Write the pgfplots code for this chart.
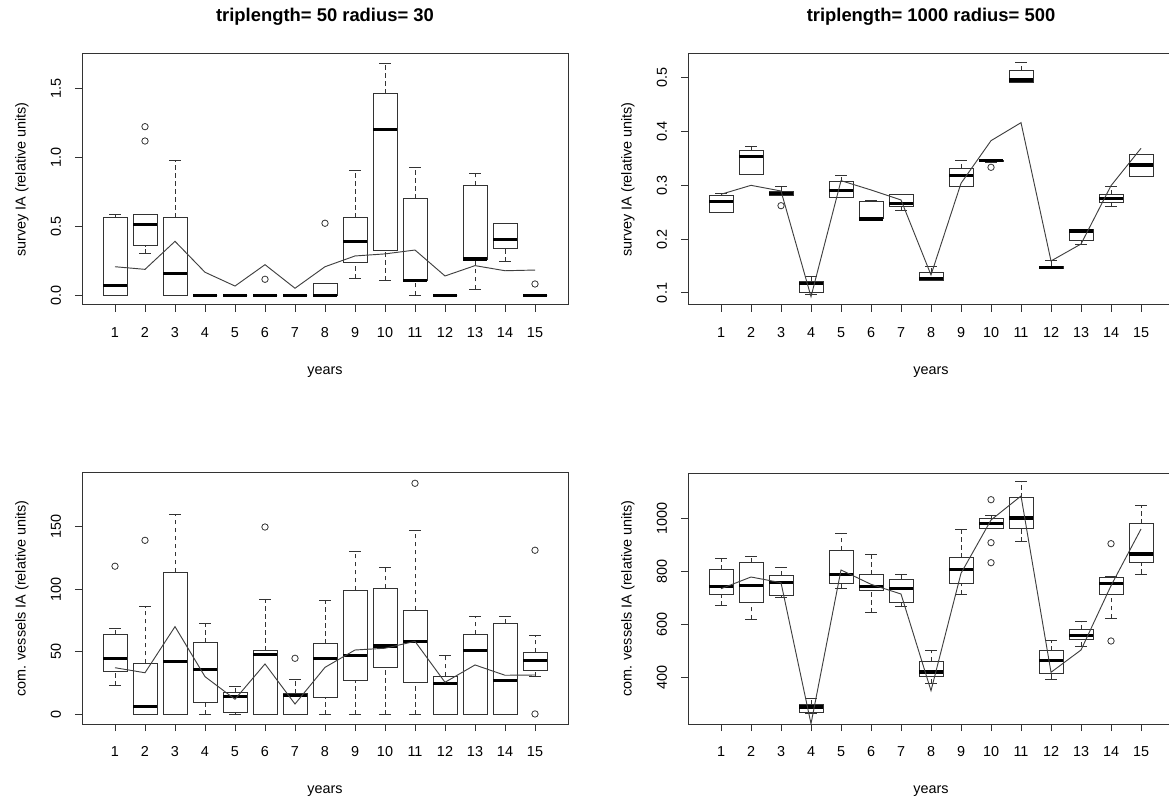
\documentclass[border=0pt]{standalone}
\usepackage{fontspec}
\setmainfont{Liberation Sans}
\usepackage{pgfplots}
\pgfplotsset{compat=1.18}

\pgfplotsset{
  boxl/.style={black!80, line width=0.75pt, mark=none, solid},
  whl/.style={black!80, line width=0.75pt, mark=none, dash pattern=on 3.5pt off 2.5pt},
  medl/.style={black, line width=2.3pt, mark=none, solid},
  outl/.style={only marks, mark=o, mark size=2.4pt, black!80, mark options={solid, line width=0.6pt}},
  rline/.style={black!75, line width=0.7pt, mark=none, solid},
  rpanel/.style={
    scale only axis, width=364.5pt, height=188.25pt, anchor=south west,
    xmin=-0.1, xmax=16.1, xtick={1,...,15},
    tick align=outside, major tick length=5.25pt,
    xtick pos=lower, ytick pos=left,
    axis line style={black!80, line width=0.75pt},
    major tick style={black!80, line width=0.75pt},
    tick label style={font=\fontsize{10.8}{12}\selectfont, text=black},
    /pgf/number format/assume math mode=true,
    xticklabel style={anchor=base, yshift=-19.4pt},
    yticklabel style={xshift=-14.25pt, rotate=90, anchor=center},
    xlabel={years},
    every axis x label/.style={at={(axis description cs:0.5,0)}, anchor=center, yshift=-50.25pt, font=\fontsize{10.8}{12}\selectfont},
    every axis y label/.style={at={(axis description cs:-0.1235,0.5)}, rotate=90, anchor=center, font=\fontsize{10.8}{12}\selectfont},
    title style={at={(axis description cs:0.5,1)}, anchor=center, yshift=22pt, font=\fontsize{13.8}{16}\selectfont\bfseries},
  },
}
% \bx{position}{lower whisker}{lower quartile}{median}{upper quartile}{upper whisker}
\newcommand{\bx}[6]{%
  \pgfmathsetmacro\xl{#1-0.4}\pgfmathsetmacro\xr{#1+0.4}%
  \pgfmathsetmacro\cl{#1-0.2}\pgfmathsetmacro\cr{#1+0.2}%
  \addplot[whl] coordinates {(#1,#2) (#1,#3)};
  \addplot[whl] coordinates {(#1,#5) (#1,#6)};
  \addplot[boxl] coordinates {(\cl,#2) (\cr,#2)};
  \addplot[boxl] coordinates {(\cl,#6) (\cr,#6)};
  \addplot[boxl] coordinates {(\xl,#3) (\xr,#3) (\xr,#5) (\xl,#5) (\xl,#3)};
  \addplot[medl] coordinates {(\xl,#4) (\xr,#4)};
}

\begin{document}
\begin{tikzpicture}
\begin{scope}
\clip (0,0) rectangle (876.75pt,599.25pt);

% ---------- top left ----------
\begin{axis}[rpanel, at={(61.5pt,370.5pt)},
  ymin=-0.0703, ymax=1.7486,
  ytick={0,0.5,1,1.5}, yticklabels={0.0,0.5,1.0,1.5},
  ylabel={survey IA (relative units)},
  title={triplength= 50 radius= 30}]
\bx{1}{0}{0}{0.070}{0.562}{0.587}
\bx{2}{0.30}{0.36}{0.514}{0.587}{0.587}
\bx{3}{0}{0}{0.159}{0.562}{0.978}
\bx{4}{0}{0}{0}{0}{0}
\bx{5}{0}{0}{0}{0}{0}
\bx{6}{0}{0}{0}{0}{0}
\bx{7}{0}{0}{0}{0}{0}
\bx{8}{0}{0}{0}{0.082}{0.082}
\bx{9}{0.120}{0.241}{0.389}{0.562}{0.901}
\bx{10}{0.104}{0.321}{1.203}{1.459}{1.678}
\bx{11}{0}{0.104}{0.104}{0.700}{0.925}
\bx{12}{0}{0}{0}{0}{0}
\bx{13}{0.043}{0.263}{0.263}{0.797}{0.881}
\bx{14}{0.244}{0.338}{0.403}{0.522}{0.522}
\bx{15}{0}{0}{0}{0}{0}
\addplot[outl] coordinates {(2,1.222) (2,1.118) (6,0.116) (8,0.522) (15,0.082)};
\addplot[rline] coordinates {(1,0.207) (2,0.188) (3,0.391) (4,0.167) (5,0.067) (6,0.222) (7,0.051) (8,0.207) (9,0.285) (10,0.300) (11,0.328) (12,0.140) (13,0.215) (14,0.178) (15,0.183)};
\end{axis}

% ---------- top right ----------
\begin{axis}[rpanel, at={(516pt,370.5pt)},
  ymin=0.0777, ymax=0.544,
  ytick={0.1,0.2,0.3,0.4,0.5}, yticklabels={0.1,0.2,0.3,0.4,0.5},
  ylabel={survey IA (relative units)},
  title={triplength= 1000 radius= 500}]
\bx{1}{0.2492}{0.2492}{0.2704}{0.2808}{0.284}
\bx{2}{0.3205}{0.3205}{0.354}{0.3644}{0.3718}
\bx{3}{0.281}{0.2815}{0.2845}{0.2877}{0.297}
\bx{4}{0.098}{0.100}{0.1168}{0.121}{0.130}
\bx{5}{0.2778}{0.2778}{0.290}{0.3063}{0.318}
\bx{6}{0.2375}{0.2375}{0.2375}{0.2704}{0.271}
\bx{7}{0.2537}{0.2598}{0.2654}{0.2827}{0.2827}
\bx{8}{0.1223}{0.1223}{0.1273}{0.1385}{0.1496}
\bx{9}{0.2975}{0.2975}{0.3187}{0.331}{0.3453}
\bx{10}{0.3425}{0.3435}{0.3453}{0.3468}{0.3475}
\bx{11}{0.4902}{0.4902}{0.4957}{0.5137}{0.5279}
\bx{12}{0.1455}{0.146}{0.148}{0.150}{0.161}
\bx{13}{0.191}{0.1966}{0.2152}{0.2177}{0.2177}
\bx{14}{0.2604}{0.2673}{0.276}{0.2827}{0.2975}
\bx{15}{0.3155}{0.3155}{0.3378}{0.3577}{0.3577}
\addplot[outl] coordinates {(3,0.2622) (10,0.3335)};
\addplot[rline] coordinates {(1,0.2834) (2,0.300) (3,0.2895) (4,0.0932) (5,0.3087) (6,0.2914) (7,0.2728) (8,0.1335) (9,0.3038) (10,0.383) (11,0.4164) (12,0.1595) (13,0.191) (14,0.2994) (15,0.3688)};
\end{axis}

% ---------- bottom left ----------
\begin{axis}[rpanel, at={(61.5pt,56.25pt)},
  ymin=-7.4, ymax=192.4,
  ytick={0,50,100,150}, yticklabels={0,50,100,150},
  ylabel={com. vessels IA (relative units)}]
\bx{1}{22.9}{34.0}{44.9}{64.0}{68.5}
\bx{2}{0}{0}{6.9}{40.9}{86.0}
\bx{3}{0}{0}{42.0}{113.4}{159.2}
\bx{4}{0}{9.9}{36.1}{57.1}{72.5}
\bx{5}{0.3}{2.1}{14.3}{17.8}{22.6}
\bx{6}{0}{0}{48.1}{51.0}{92.1}
\bx{7}{0}{0}{15.4}{16.5}{28.2}
\bx{8}{0}{13.3}{44.6}{56.3}{91.3}
\bx{9}{0}{27.4}{47.0}{99.0}{130.3}
\bx{10}{0}{37.7}{54.7}{100.6}{117.4}
\bx{11}{0}{25.8}{58.4}{83.1}{146.3}
\bx{12}{0}{0}{25.0}{30.6}{47.5}
\bx{13}{0}{0}{51.0}{64.0}{78.3}
\bx{14}{0}{0}{27.4}{72.5}{78.3}
\bx{15}{30.3}{35.0}{43.3}{49.7}{62.9}
\addplot[outl] coordinates {(1,118.2) (2,138.8) (6,149.4) (7,44.9) (11,184.2) (15,130.9) (15,0.6)};
\addplot[rline] coordinates {(1,37.4) (2,33.4) (3,70.1) (4,30.3) (5,12.3) (6,40.4) (7,8.5) (8,37.7) (9,51.5) (10,52.9) (11,58.4) (12,25.8) (13,39.6) (14,31.4) (15,31.6)};
\end{axis}

% ---------- bottom right ----------
\begin{axis}[rpanel, at={(516pt,56.25pt)},
  ymin=223.8, ymax=1170.9,
  ytick={400,600,800,1000}, yticklabels={400,600,800,1000},
  ylabel={com. vessels IA (relative units)}]
\bx{1}{670.2}{713.2}{743.4}{806}{847.6}
\bx{2}{618.9}{683}{745.7}{832.5}{857.7}
\bx{3}{703}{709.4}{757}{784.9}{815}
\bx{4}{263}{269}{287.9}{298}{319.3}
\bx{5}{734}{755.8}{788.7}{879.2}{943.4}
\bx{6}{643.8}{726.8}{742}{787.2}{864.2}
\bx{7}{668}{680.4}{734.3}{769.8}{787.2}
\bx{8}{375.9}{402.3}{420}{460.4}{503}
\bx{9}{713.2}{755.8}{806}{850.2}{958.5}
\bx{10}{962.3}{962.3}{979.6}{998.5}{1009.8}
\bx{11}{911.7}{962.3}{1001}{1076.6}{1137}
\bx{12}{393.6}{416.2}{464.2}{500.4}{538.1}
\bx{13}{515.5}{540.8}{558.5}{579.6}{609.8}
\bx{14}{622.6}{710.6}{753.2}{775.8}{779.8}
\bx{15}{789.8}{832.5}{865.3}{979.6}{1046.4}
\addplot[outl] coordinates {(10,1070.2) (10,908) (10,832.5) (14,904.2) (14,537)};
\addplot[rline] coordinates {(1,734.3) (2,778.5) (3,757) (4,225) (5,805) (6,750.9) (7,714.3) (8,349.5) (9,792.5) (10,993.6) (11,1084) (12,418.9) (13,503) (14,745.7) (15,959.6)};
\end{axis}
\end{scope}

\pgfresetboundingbox
\path[use as bounding box] (0,0) rectangle (876.75pt,599.25pt);
\end{tikzpicture}
\end{document}
